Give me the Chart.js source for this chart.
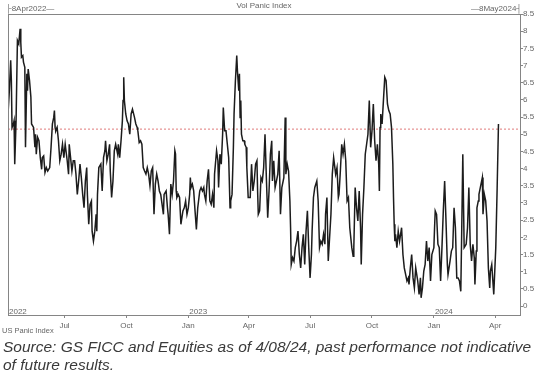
<!DOCTYPE html>
<html>
<head>
<meta charset="utf-8">
<script src="https://cdn.jsdelivr.net/npm/chart.js@4.4.1/dist/chart.umd.min.js"></script>
<style>
  html, body { margin:0; padding:0; background:#fff; width:549px; height:381px; overflow:hidden; }
  #wrap { position:absolute; left:0; top:0; width:549px; height:335px; }
  .sm { position:absolute; font-family:"Liberation Sans", Arial, sans-serif; font-size:8px; color:#666; white-space:nowrap; line-height:10px; }
  #source { position:absolute; left:3px; top:338px; font-family:"Liberation Sans", Arial, sans-serif; font-style:italic; font-size:15.5px; line-height:18px; color:#3a3a3a; white-space:nowrap; }
</style>
</head>
<body>
<div id="wrap"><canvas id="c" width="549" height="335"></canvas></div>
<div class="sm" id="title" style="left:8px; width:512px; text-align:center; top:1px;">Vol Panic Index</div>
<div class="sm" id="startLbl" style="left:6px; top:4px;">&#9500;8Apr2022&#8212;</div>
<div class="sm" id="endLbl" style="left:422px; width:100px; text-align:right; top:4px;">&#8212;8May2024&#9508;</div>
<div class="sm" id="seriesLbl" style="left:2px; top:326px; font-size:7.5px;">US Panic Index</div>
<div id="source">Source: GS FICC and Equities as of 4/08/24, past performance not indicative<br>of future results.</div>
<script>
const START_DATE = '2022-04-08';
const END_DATE = '2024-05-08';
const thresholdValue = 5.15;

const dayOffsets = [
  0,2,4,5,6,8,9,10,12,14,16,18,19,20,22,23,25,26,28,29,30,32,34,35,38,40,41,42,44,46,
  48,50,51,53,55,57,59,62,64,66,68,69,70,71,73,75,77,79,81,83,85,88,90,91,93,95,97,99,101,103,
  105,107,109,111,113,115,117,118,120,122,124,125,127,129,131,132,133,135,138,140,142,144,145,147,149,151,152,154,156,158,
  160,163,164,166,168,170,171,172,173,175,177,179,181,183,185,188,190,192,193,195,197,199,201,203,205,207,209,211,213,215,
  217,219,221,223,225,227,229,231,232,235,237,
  238,240,242,244,246,248,249,250,251,253,255,257,260,262,264,266,268,270,271,272,274,276,278,280,282,285,287,289,291,292,
  294,296,298,300,302,304,306,307,310,312,313,315,317,319,320,322,324,326,328,330,331,333,335,336,338,340,341,343,344,345,
  346,347,349,351,352,354,355,357,360,362,364,366,368,370,371,372,374,376,378,380,382,384,386,388,390,392,393,395,397,399,
  401,403,405,407,410,412,413,415,417,419,420,421,423,425,427,429,431,433,435,437,439,441,443,445,447,449,451,452,454,456,
  459,461,463,465,467,469,471,472,474,476,
  480,482,484,487,489,491,492,494,496,498,500,502,504,506,508,511,513,514,516,518,520,522,524,525,527,529,531,533,535,537,
  539,541,543,545,547,549,551,552,553,554,556,558,560,562,564,566,568,570,572,573,574,575,576,578,580,582,585,587,589,591,
  593,595,596,598,600,602,604,606,609,611,613,614,616,618,620,622,624,626,628,630,633,634,635,637,639,641,643,645,647,649,
  651,653,654,657,659,661,663,665,667,669,671,673,674,676,678,681,683,685,687,689,691,693,694,696,697,699,700,702,705,706,
  708,710,712,714,716,717,719,722,725,727,729
];

const panicValues = [
  5.59,6.27,7.15,6.56,5.20,5.30,5.39,4.13,5.39,7.73,7.63,8.07,7.68,7.24,7.29,7.10,6.95,4.62,6.76,6.27,6.90,6.56,6.08,5.30,5.20,4.62,5.00,4.42,4.91,4.81,
  4.32,3.98,4.32,4.37,3.89,4.03,3.93,4.03,4.62,5.30,5.49,5.69,5.20,5.10,5.20,4.81,4.23,4.42,4.71,4.32,4.71,4.23,3.84,4.71,4.32,3.93,4.23,4.23,3.84,3.25,
  3.64,4.13,3.74,3.25,2.86,3.64,4.03,3.25,2.38,2.96,3.06,2.18,1.89,2.18,2.67,2.18,3.25,4.03,4.13,3.35,4.32,4.52,4.81,4.23,4.42,4.71,3.93,3.16,3.64,4.52,
  4.71,4.42,4.71,4.32,4.81,5.39,5.98,6.66,5.98,5.59,5.39,5.30,5.00,5.59,5.73,5.49,5.30,5.20,5.10,4.76,4.81,4.71,4.03,3.93,3.84,4.03,3.84,3.50,3.93,4.03,
  2.67,3.55,3.84,3.64,3.35,3.25,2.96,2.67,3.25,3.35,2.86,
  2.67,2.09,3.55,3.25,3.64,4.52,4.42,3.35,3.16,3.25,3.16,2.38,2.77,2.86,3.06,2.67,2.86,3.25,3.74,3.45,3.55,3.35,2.77,2.23,2.86,3.35,3.45,3.35,3.45,3.25,
  3.06,3.64,3.98,3.06,2.96,3.25,2.86,3.84,4.52,4.23,3.45,4.42,4.13,5.00,5.78,5.10,5.10,4.71,4.32,2.86,3.06,3.25,4.62,5.59,6.56,7.29,6.85,6.27,6.76,5.49,
  5.98,5.00,4.81,4.81,4.71,4.62,4.03,3.16,3.16,4.13,3.35,3.64,4.13,4.23,3.35,2.67,2.77,3.74,3.64,4.03,5.00,3.74,2.57,3.35,4.42,4.81,3.64,4.23,3.45,3.64,
  3.84,4.52,2.67,3.45,3.74,5.49,3.84,4.13,3.93,3.06,2.28,1.21,1.41,1.31,1.70,1.89,2.18,1.50,1.11,1.70,2.09,1.21,2.18,2.77,1.70,0.82,1.50,2.18,3.16,3.45,
  3.64,3.06,1.70,1.89,1.80,2.09,1.80,2.67,3.16,1.31,
  2.67,3.84,4.32,3.84,4.03,3.16,3.25,3.93,4.71,4.42,4.71,4.23,3.06,3.16,2.28,1.70,1.45,1.70,3.45,2.86,2.48,3.35,2.28,1.21,2.67,3.45,4.42,4.71,5.00,5.98,
  4.62,5.10,5.88,4.81,4.23,4.71,4.13,3.35,5.20,5.59,5.30,5.98,6.66,6.56,5.88,5.69,5.59,5.20,4.13,3.16,2.38,1.89,2.09,1.70,2.18,1.89,2.28,1.50,1.11,0.92,
  0.73,0.82,0.63,1.11,1.50,0.82,0.53,1.11,0.73,0.34,0.82,0.24,0.53,1.02,1.21,1.89,1.31,1.70,0.73,1.50,1.70,2.28,2.77,2.67,1.80,1.70,0.73,1.70,2.77,3.64,
  2.48,1.21,0.92,1.31,1.60,1.70,2.86,2.28,0.82,0.82,0.73,0.43,1.70,4.42,1.70,1.80,2.28,3.45,1.80,1.31,1.80,1.41,0.63,1.60,2.86,3.06,3.25,3.45,3.74,2.67,
  3.25,3.06,2.48,1.11,0.53,1.02,1.21,0.34,1.70,3.40,5.30
];

const monthTickDates = ['2022-07-01','2022-10-01','2023-01-01','2023-04-01','2023-07-01','2023-10-01','2024-01-01','2024-04-01'];
const monthTickLabels = ['Jul','Oct','Jan','Apr','Jul','Oct','Jan','Apr'];
const yearLabelDates = ['2022-04-08','2023-01-01','2024-01-01'];
const yearLabels = ['2022','2023','2024'];
const yTickValues = [0,0.5,1,1.5,2,2.5,3,3.5,4,4.5,5,5.5,6,6.5,7,7.5,8,8.5];

function dayIndex(d) { return Math.round((Date.parse(d) - Date.parse(START_DATE)) / 86400000); }
const xMax = dayIndex(END_DATE);
const monthTickDays = monthTickDates.map(dayIndex);

const seriesData = dayOffsets.map((d, i) => ({ x: d, y: panicValues[i] }));
const thresholdData = [{ x: 0, y: thresholdValue }, { x: xMax, y: thresholdValue }];

const FONT = 'Liberation Sans';

const framePlugin = {
  id: 'frame',
  afterDraw(chart) {
    const { ctx, chartArea: a, scales } = chart;
    ctx.save();
    ctx.strokeStyle = '#858585';
    ctx.lineWidth = 1;
    ctx.strokeRect(Math.round(a.left) + 0.5, Math.round(a.top) + 0.5, Math.round(a.right - a.left), Math.round(a.bottom - a.top));
    ctx.fillStyle = '#666';
    ctx.font = '8px "' + FONT + '"';
    ctx.textBaseline = 'alphabetic';
    ctx.textAlign = 'left';
    yearLabelDates.forEach((d, i) => {
      const px = scales.x.getPixelForValue(dayIndex(d));
      ctx.fillText(yearLabels[i], Math.max(px, a.left) + 1, a.bottom - 1);
    });
    ctx.restore();
  }
};

new Chart(document.getElementById('c'), {
  type: 'line',
  data: {
    datasets: [
      { label: 'US Panic Index', data: seriesData, borderColor: '#1c1c1c', borderWidth: 1.5, pointRadius: 0, tension: 0, fill: false },
      { label: 'threshold', data: thresholdData, borderColor: '#e07a7a', borderWidth: 1, borderDash: [2, 2], pointRadius: 0, fill: false }
    ]
  },
  options: {
    responsive: false,
    devicePixelRatio: 1,
    animation: false,
    layout: { padding: { left: 8, top: 14, right: 0, bottom: 0 } },
    plugins: { legend: { display: false }, tooltip: { enabled: false }, title: { display: false } },
    scales: {
      x: {
        type: 'linear', min: 0, max: xMax,
        afterBuildTicks: s => { s.ticks = monthTickDays.map(v => ({ value: v })); },
        afterFit: s => { s.height = 20; },
        grid: { drawOnChartArea: false, drawTicks: true, tickLength: 3, color: '#858585' },
        border: { display: true, color: '#858585' },
        ticks: {
          autoSkip: false, maxRotation: 0, padding: 3, color: '#666',
          font: { family: FONT, size: 8 },
          callback: (v) => { const i = monthTickDays.indexOf(v); return i >= 0 ? monthTickLabels[i] : ''; }
        }
      },
      y: {
        type: 'linear', position: 'right', min: -0.26, max: 8.5,
        afterBuildTicks: s => { s.ticks = yTickValues.map(v => ({ value: v })); },
        afterFit: s => { s.width = 29; },
        grid: { drawOnChartArea: false, drawTicks: true, tickLength: 3, color: '#858585' },
        border: { display: true, color: '#858585' },
        ticks: { padding: 0, color: '#666', font: { family: FONT, size: 8 }, callback: v => String(v) }
      }
    }
  },
  plugins: [framePlugin]
});
</script>
</body>
</html>
